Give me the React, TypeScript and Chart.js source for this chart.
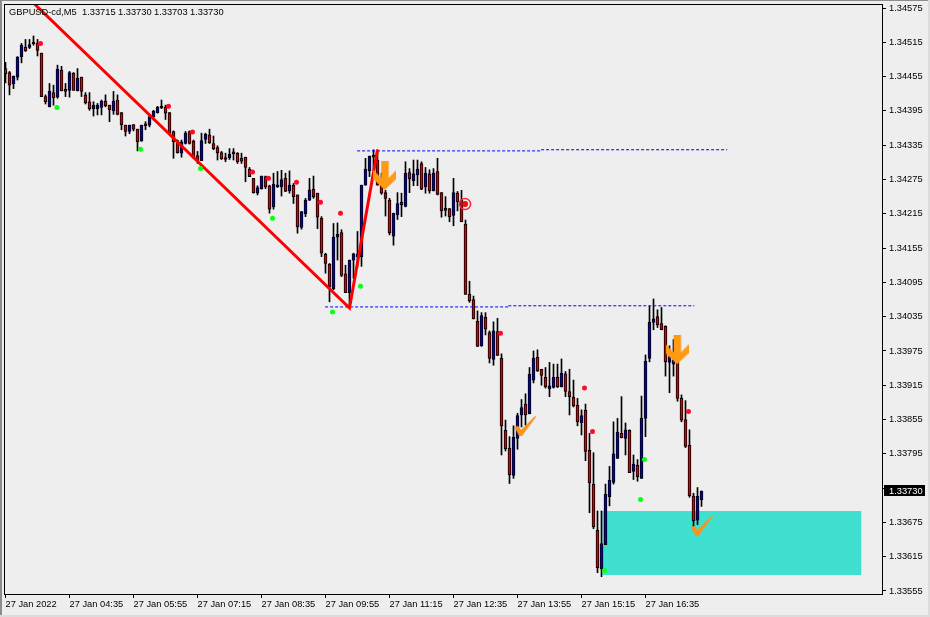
import React, { useEffect, useRef } from "react";
import { Chart, registerables } from "chart.js";

Chart.register(...registerables);

// all prices are in points above 1.00000 (34469 = 1.34469)
const opens = [
  34469,34462,34442,34454,34490,34506,34506,34513,34513,34496,
  34420,34402,34427,34419,34466,34430,34431,34461,34430,34454,
  34423,34411,34399,34399,34401,34412,34405,34395,34414,34392,
  34370,34359,34371,34363,34342,34370,34370,34385,34392,34401,
  34401,34392,34359,34343,34321,34338,34359,34342,34317,34308,
  34345,34353,34338,34331,34322,34311,34313,34321,34321,34312,
  34314,34293,34277,34251,34259,34280,34264,34227,34262,34262,
  34277,34255,34265,34248,34191,34215,34239,34258,34251,34207,
  34144,34127,34084,34174,34182,34110,34077,34134,34140,34140,
  34265,34290,34316,34309,34265,34252,34239,34176,34213,34235,
  34228,34287,34273,34283,34303,34262,34285,34255,34289,34252,
  34222,34224,34212,34251,34239,34197,34074,34065,34027,33984,
  34034,34007,33960,34009,33962,33836,33805,33757,33822,33863,
  33882,33865,33924,33964,33943,33929,33909,33911,33929,33912,
  33935,33904,33894,33880,33849,33871,33801,33742,33661,33594,
  33636,33720,33745,33787,33831,33822,33836,33764,33775,33752,
  33857,33962,34025,34035,34023,34018,33955,33952,33955,33892,
  33855,33810,33721,33679,33715,
];
const highs = [
  34480,34464,34456,34490,34513,34520,34520,34526,34520,34496,
  34423,34443,34440,34475,34473,34443,34464,34462,34469,34454,
  34427,34427,34411,34408,34414,34423,34405,34429,34423,34392,
  34370,34370,34371,34363,34370,34376,34389,34396,34403,34414,
  34405,34392,34360,34344,34344,34359,34360,34344,34324,34356,
  34356,34363,34351,34334,34324,34321,34329,34329,34322,34321,
  34314,34296,34277,34264,34281,34281,34265,34286,34289,34291,
  34286,34290,34268,34248,34219,34242,34277,34281,34251,34210,
  34146,34128,34198,34199,34187,34125,34134,34146,34184,34265,
  34312,34316,34327,34327,34286,34256,34242,34216,34252,34251,
  34306,34294,34309,34309,34306,34296,34292,34294,34312,34252,
  34245,34224,34277,34254,34256,34204,34097,34071,34045,34042,
  34042,34010,34026,34032,33970,33854,33825,33844,33866,33890,
  33900,33946,33975,33977,33943,33946,33955,33952,33952,33961,
  33939,33943,33924,33892,33872,33882,33831,33797,33695,33695,
  33742,33773,33851,33857,33895,33849,33837,33793,33785,33896,
  33968,34053,34066,34047,34051,34019,33984,33995,33968,33898,
  33888,33837,33726,33736,33730,
];
const lows = [
  34444,34423,34434,34449,34479,34499,34504,34510,34491,34420,
  34407,34402,34405,34417,34430,34420,34419,34431,34430,34420,
  34407,34396,34386,34388,34388,34402,34376,34389,34388,34362,
  34351,34355,34360,34325,34342,34362,34367,34379,34391,34399,
  34380,34355,34312,34321,34314,34337,34337,34312,34303,34308,
  34338,34338,34327,34309,34310,34306,34310,34309,34303,34303,
  34271,34280,34251,34248,34258,34259,34216,34223,34261,34246,
  34254,34251,34233,34181,34188,34210,34238,34242,34189,34140,
  34111,34061,34082,34134,34105,34077,34052,34102,34122,34123,
  34265,34280,34290,34265,34249,34211,34178,34160,34205,34210,
  34227,34252,34264,34264,34257,34251,34251,34255,34248,34209,
  34211,34201,34194,34220,34201,34074,34060,34031,33983,33983,
  34003,33954,33950,33967,33793,33800,33743,33752,33803,33842,
  33845,33865,33919,33939,33915,33910,33895,33910,33911,33912,
  33895,33863,33877,33844,33828,33783,33692,33664,33587,33580,
  33636,33704,33742,33787,33823,33793,33762,33750,33747,33752,
  33825,33956,34012,34016,34012,33931,33902,33931,33887,33851,
  33806,33719,33667,33671,33703,
];
const closes = [
  34460,34440,34456,34489,34510,34500,34511,34512,34501,34420,
  34411,34429,34418,34468,34430,34429,34462,34431,34452,34429,
  34409,34399,34405,34405,34412,34404,34397,34412,34389,34371,
  34359,34370,34363,34341,34370,34369,34385,34394,34401,34400,
  34391,34357,34341,34322,34341,34356,34338,34315,34308,34343,
  34354,34339,34329,34322,34311,34310,34319,34320,34306,34307,
  34296,34280,34252,34261,34281,34262,34223,34267,34265,34275,
  34254,34265,34245,34192,34219,34239,34257,34245,34209,34146,
  34128,34087,34174,34179,34107,34077,34134,34145,34145,34265,
  34293,34316,34314,34265,34251,34242,34182,34216,34233,34231,
  34286,34276,34285,34293,34258,34286,34255,34286,34249,34220,
  34221,34210,34252,34236,34201,34074,34063,34031,33983,34037,
  34013,33962,34010,33967,33844,33804,33758,33824,33862,33876,
  33863,33934,33962,33940,33932,33912,33914,33929,33912,33936,
  33904,33895,33879,33851,33862,33799,33744,33667,33596,33638,
  33724,33749,33795,33833,33823,33837,33762,33777,33755,33857,
  33957,34025,34031,34021,34012,33956,33965,33959,33892,33854,
  33808,33722,33678,33721,33730,
];

const timeLabels = ["27 Jan 2022","27 Jan 04:35","27 Jan 05:55","27 Jan 07:15","27 Jan 08:35","27 Jan 09:55","27 Jan 11:15","27 Jan 12:35","27 Jan 13:55","27 Jan 15:15","27 Jan 16:35"];
const barsPerLabel = 16;
const priceTicks = [34575,34515,34455,34395,34335,34275,34215,34155,34095,34035,33975,33915,33855,33795,33735,33675,33615,33555];

const symbolTitle = "GBPUSD-cd,M5";
const ohlcTitle = ["1.33715","1.33730","1.33703","1.33730"];

const trendX = [7.25, 86, 93];
const trendY = [34582, 34050, 34327];
const upperLeftX = [87.9, 133.9], upperLeftY = 34325;
const upperRightX = [133.9, 180.4], upperRightY = 34327;
const lowerLeftX = [79.9, 125.7], lowerLeftY = 34052;
const lowerRightX = [125.7, 172.2], lowerRightY = 34054;
const zoneX = [149.2, 214], zoneTop = 33695, zoneBottom = 33583;

const redDotX = [8.75,40.75,46.75,61.75,65.75,72.75,78.75,83.75,123.75,144.75,146.75,170.75];
const redDotY = [34513,34403,34358,34288,34277,34270,34235,34216,34006,33910,33834,33869];
const greenDotX = [12.85,33.75,48.75,66.75,81.75,88.75,149.75,158.75,159.75];
const greenDotY = [34401,34328,34294,34207,34043,34088,33591,33715,33785];
const targetX = [114.9], targetY = [34232];
const arrowX = [94.8, 167.9], arrowY = [34282, 33977];
const checkX = [129.9, 174], checkY = [33844, 33669];

const price = (p: number) => (100000 + p) / 100000;
const FONT = "Liberation Sans";
const FONT_SIZE = 9.3;
const LAST = closes[closes.length - 1];

function shape(w: number, h: number, pts: number[][], color: string) {
  const c = document.createElement("canvas");
  c.width = w; c.height = h;
  const g = c.getContext("2d")!;
  g.fillStyle = color;
  g.beginPath();
  pts.forEach(([x, y], i) => (i ? g.lineTo(x, y) : g.moveTo(x, y)));
  g.closePath();
  g.fill();
  return c;
}

const pts = (xs: number[], ys: number[]) => xs.map((x, i) => ({ x, y: price(ys[i]) }));
const hline = (xs: number[], y: number) => xs.map((x) => ({ x, y: price(y) }));

export default function App() {
  const ref = useRef<HTMLCanvasElement>(null);
  useEffect(() => {
    const arrow = shape(23, 29, [[8,0],[15.5,0],[15.5,17],[23,9],[23,18],[11.5,29],[0,18],[0,9],[8,17]], "#ff9a14");
    const check = shape(22, 20, [[0,11],[4,10],[7,14],[21,0],[22,1],[8,20],[5,20]], "#f7941e");

    const idx = opens.map((_, i) => i);
    const dash = (data: any[], order = 2) => ({
      type: "line", data, borderColor: "#0000ff", borderWidth: 1, borderDash: [3, 2],
      pointRadius: 0, order, fill: false,
    });

    const frame = {
      id: "frame",
      beforeDraw(c: any) {
        const g = c.ctx;
        g.save();
        g.fillStyle = "#eeeeee";
        g.fillRect(0, 0, 930, 617);
        g.fillStyle = "#8c8c8c";
        g.fillRect(0, 0, 930, 1);
        g.fillRect(0, 0, 2, 617);
        g.fillStyle = "#dcdcdc";
        g.fillRect(928, 0, 2, 617);
        g.fillRect(0, 615, 930, 2);
        g.restore();
      },
      afterDraw(c: any) {
        const g = c.ctx;
        const a = c.chartArea;
        g.save();
        g.strokeStyle = "#000";
        g.lineWidth = 1;
        g.strokeRect(a.left + 0.5, a.top + 0.5, a.right - a.left - 1, a.bottom - a.top - 1);
        g.font = `${FONT_SIZE}px "${FONT}"`;
        g.textBaseline = "middle";
        g.textAlign = "left";
        g.fillStyle = "#000";
        g.fillText(symbolTitle, 9, 12.5);
        ohlcTitle.forEach((t, i) => g.fillText(t, 82 + 36 * i, 12.5));
        const y = c.scales.y.getPixelForValue(price(LAST));
        g.fillStyle = "#000";
        g.fillRect(884, Math.round(y) - 6, 41, 11);
        g.fillStyle = "#fff";
        g.fillText(price(LAST).toFixed(5), 889, y);
        g.restore();
      },
    };

    const chart = new Chart(ref.current!, {
      type: "bar",
      plugins: [frame],
      data: {
        datasets: [
          {
            type: "line",
            data: hline(zoneX, zoneTop),
            borderWidth: 0, pointRadius: 0, backgroundColor: "#40e0d0",
            fill: { value: price(zoneBottom) }, order: 9,
          },
          {
            type: "bar",
            data: idx.map((i) => ({ x: i, y: [price(lows[i]), price(highs[i])] })),
            backgroundColor: "#000", borderWidth: 0, barThickness: 1, grouped: false, order: 6,
          },
          {
            type: "bar",
            data: idx.map((i) => ({ x: i, y: [price(opens[i]), price(closes[i])] })),
            backgroundColor: idx.map((i) => (closes[i] >= opens[i] ? "#0000c8" : "#d80000")),
            borderColor: "#000", borderWidth: 1, borderSkipped: false,
            barThickness: 3, grouped: false, minBarLength: 2, order: 5,
          },
          dash(hline(upperLeftX, upperLeftY)),
          dash(hline(upperRightX, upperRightY)),
          dash(hline(lowerLeftX, lowerLeftY)),
          dash(hline(lowerRightX, lowerRightY)),
          {
            type: "line", data: pts(trendX, trendY), borderColor: "#ff0000", borderWidth: 3,
            pointRadius: 0, fill: false, order: 1,
          },
          {
            type: "scatter", data: pts(redDotX, redDotY), backgroundColor: "#ff0a28",
            borderWidth: 0, pointRadius: 2.5, order: 0,
          },
          {
            type: "scatter", data: pts(greenDotX, greenDotY), backgroundColor: "#0aff14",
            borderWidth: 0, pointRadius: 2.5, order: 0,
          },
          {
            type: "scatter", data: pts(targetX, targetY), backgroundColor: "rgba(0,0,0,0)",
            borderColor: "#ff2040", borderWidth: 1.5, pointRadius: 5.5, order: 0,
          },
          {
            type: "scatter", data: pts(targetX, targetY), backgroundColor: "#e81010",
            borderWidth: 0, pointRadius: 3, order: 0,
          },
          {
            type: "scatter", data: pts(arrowX, arrowY), pointStyle: arrow as any, order: 0,
          },
          {
            type: "scatter", data: pts(checkX, checkY), pointStyle: check as any, order: 0,
          },
        ] as any,
      },
      options: {
        responsive: false,
        devicePixelRatio: 1,
        animation: false,
        events: [],
        layout: { autoPadding: false, padding: { left: 4, top: 4, right: 0, bottom: 0 } },
        plugins: { legend: { display: false }, tooltip: { enabled: false }, title: { display: false } },
        scales: {
          x: {
            type: "linear",
            offset: false,
            min: -0.375,
            max: 219.375,
            grid: { offset: false, drawOnChartArea: false, tickLength: 3, color: "#000" },
            border: { display: false },
            afterBuildTicks: (s: any) => {
              s.ticks = timeLabels.map((_, i) => ({ value: i * barsPerLabel }));
            },
            afterFit: (s: any) => {
              s.height = 22;
              s.paddingLeft = s.paddingRight = s.paddingTop = s.paddingBottom = 0;
            },
            ticks: {
              autoSkip: false, maxRotation: 0, align: "start", padding: 1, color: "#000",
              font: { family: FONT, size: FONT_SIZE },
              callback: (v: any) => timeLabels[Math.round(Number(v) / barsPerLabel)],
            },
          },
          y: {
            type: "linear",
            position: "right",
            min: price(33548),
            max: price(34582),
            grid: { drawOnChartArea: false, tickLength: 3, color: "#000" },
            border: { display: false },
            afterBuildTicks: (s: any) => {
              s.ticks = priceTicks.map((p) => ({ value: price(p) }));
            },
            afterFit: (s: any) => {
              s.width = 47;
              s.paddingLeft = s.paddingRight = s.paddingTop = s.paddingBottom = 0;
            },
            ticks: {
              autoSkip: false, padding: 3, color: "#000",
              font: { family: FONT, size: FONT_SIZE },
              callback: (v: any) => Number(v).toFixed(5),
            },
          },
        },
      },
    } as any);
    return () => chart.destroy();
  }, []);
  return (
    <canvas
      ref={ref}
      width={930}
      height={617}
      style={{ position: "fixed", left: 0, top: 0, width: 930, height: 617, display: "block" }}
    />
  );
}
